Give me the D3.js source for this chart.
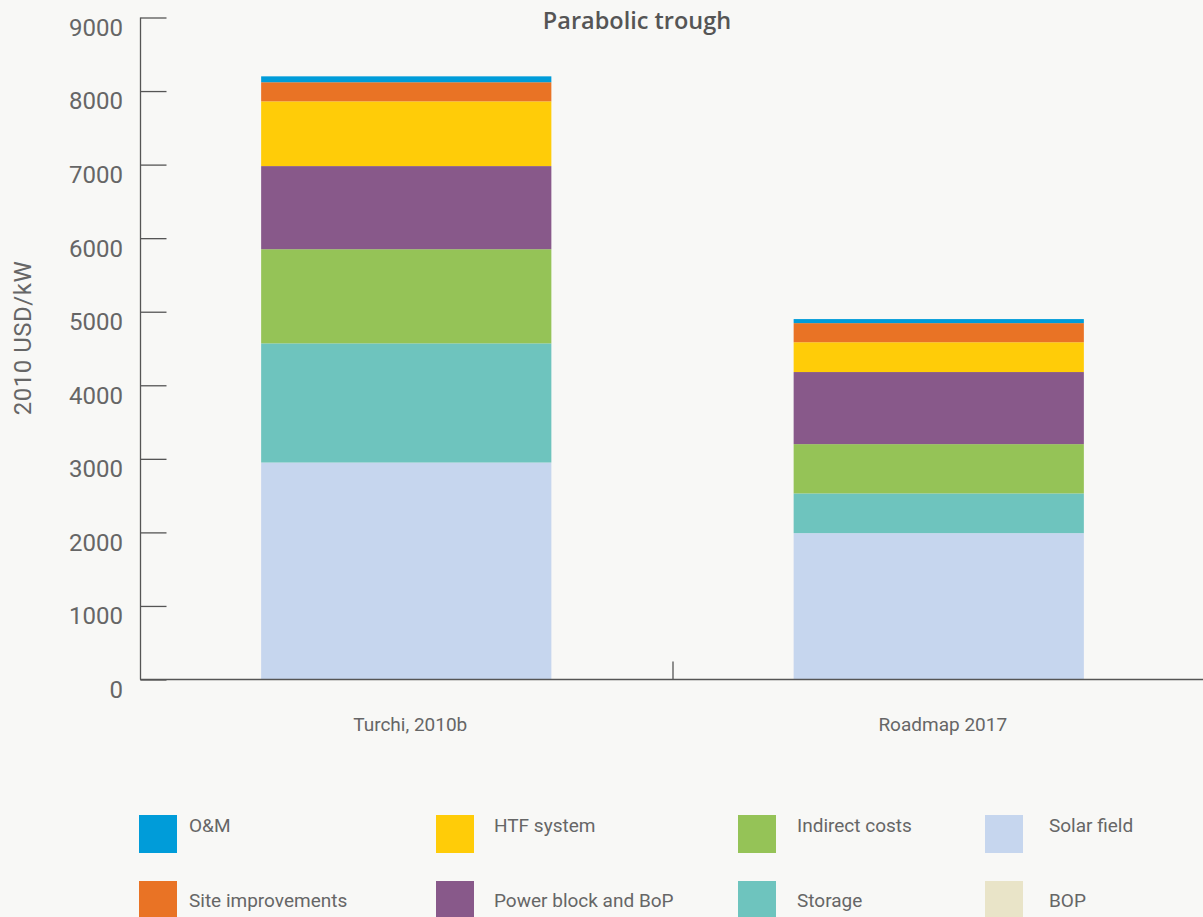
<!DOCTYPE html>
<html lang="en">
  <head>
    <meta charset="UTF-8" />
    <title>Parabolic trough</title>
    <script src="https://d3js.org/d3.v7.min.js"></script>
    <style>
      body {
        margin: 0;
        background: #f8f8f6;
      }
      svg {
        display: block;
        background: #f8f8f6;
      }
      text {
        font-family: Roboto, "Liberation Sans", sans-serif;
        fill: #666;
      }
      .title {
        font-family: "Open Sans", Roboto, sans-serif;
        font-weight: 600;
        font-size: 23.5px;
        fill: #555;
      }
    </style>
  </head>
  <body>
    <svg id="chart" width="1203" height="917"></svg>

    <script>
      // data (2010 USD/kW)
      const categories = ["Turchi, 2010b", "Roadmap 2017"];
      const seriesNames = [
        "Solar field",
        "Storage",
        "Indirect costs",
        "Power block and BoP",
        "HTF system",
        "Site improvements",
        "O&M",
        "BOP",
      ];
      const solarField = [2950, 1990];
      const storage = [1620, 540];
      const indirectCosts = [1280, 670];
      const powerBlock = [1130, 980];
      const htfSystem = [880, 405];
      const siteImprovements = [260, 260];
      const oAndM = [80, 55];
      const bop = [0, 0];
      const yTicks = [0, 1000, 2000, 3000, 4000, 5000, 6000, 7000, 8000, 9000];

      const colors = {
        "O&M": "#009cd9",
        "Site improvements": "#e97325",
        "HTF system": "#ffcc08",
        "Power block and BoP": "#88598a",
        "Indirect costs": "#95c357",
        Storage: "#6ec4be",
        "Solar field": "#c6d6ee",
        BOP: "#e9e4c8",
      };

      // legend order, column by column
      const legendOrder = [
        "O&M",
        "Site improvements",
        "HTF system",
        "Power block and BoP",
        "Indirect costs",
        "Storage",
        "Solar field",
        "BOP",
      ];

      const values = [solarField, storage, indirectCosts, powerBlock, htfSystem, siteImprovements, oAndM, bop];
      const table = categories.map((c, i) => {
        const row = { category: c };
        seriesNames.forEach((s, j) => (row[s] = values[j][i]));
        return row;
      });

      const svg = d3.select("#chart");

      const y = d3.scaleLinear().domain([0, 9000]).range([679.5, 17.5]);
      const x = d3.scaleBand().domain(categories).range([140, 1205]).padding(0);
      const barW = x.bandwidth() * 0.545;

      const stacked = d3.stack().keys(seriesNames)(table);

      // bars
      svg
        .append("g")
        .selectAll("g")
        .data(stacked)
        .join("g")
        .attr("fill", (d) => colors[d.key])
        .selectAll("rect")
        .data((d) => d)
        .join("rect")
        .attr("x", (d) => x(d.data.category) + (x.bandwidth() - barW) / 2)
        .attr("width", barW)
        .attr("y", (d) => y(d[1]))
        .attr("height", (d) => y(d[0]) - y(d[1]));

      // y axis
      const yAxis = svg
        .append("g")
        .attr("transform", "translate(140.5,0)")
        .call(d3.axisRight(y).tickValues(yTicks).tickSize(26).tickFormat(""));
      yAxis.selectAll("line, path").attr("stroke", "#555").attr("stroke-width", 1.3);
      yAxis.select(".domain").attr("d", `M0,${y(9000)}V${y(0)}`);

      svg
        .append("g")
        .selectAll("text")
        .data(yTicks)
        .join("text")
        .attr("x", 123)
        .attr("y", (d) => y(d) + 10)
        .attr("dy", "0.35em")
        .attr("text-anchor", "end")
        .style("font-size", "24px")
        .text((d) => d);

      // x axis baseline and separator
      svg
        .append("line")
        .attr("x1", 140)
        .attr("x2", 1203)
        .attr("y1", y(0))
        .attr("y2", y(0))
        .attr("stroke", "#555")
        .attr("stroke-width", 1.3);

      svg
        .selectAll(".sep")
        .data(categories.slice(1))
        .join("line")
        .attr("class", "sep")
        .attr("x1", (d) => x(d) + 0.5)
        .attr("x2", (d) => x(d) + 0.5)
        .attr("y1", y(0))
        .attr("y2", y(0) - 18)
        .attr("stroke", "#555")
        .attr("stroke-width", 1.3);

      svg
        .append("g")
        .selectAll("text")
        .data(categories)
        .join("text")
        .attr("x", (d) => x(d) + x.bandwidth() / 2 + 4)
        .attr("y", 731)
        .attr("text-anchor", "middle")
        .style("font-size", "19px")
        .text((d) => d);

      // titles
      svg.append("text").attr("class", "title").attr("x", 637).attr("y", 29).attr("text-anchor", "middle").text("Parabolic trough");

      svg
        .append("text")
        .attr("transform", "translate(31,338) rotate(-90)")
        .attr("text-anchor", "middle")
        .style("font-size", "24px")
        .style("letter-spacing", "0.5px")
        .text("2010 USD/kW");

      // legend: 4 columns x 2 rows
      const legendCols = [139, 436, 738, 985];
      const legendTextOff = [50, 58, 59, 64];
      const legendRows = [815, 881];
      const legendBase = [832, 907];

      const items = svg
        .append("g")
        .selectAll("g")
        .data(legendOrder)
        .join("g");

      items
        .append("rect")
        .attr("x", (d, i) => legendCols[Math.floor(i / 2)])
        .attr("y", (d, i) => legendRows[i % 2])
        .attr("width", 38)
        .attr("height", 38)
        .attr("fill", (d) => colors[d]);

      items
        .append("text")
        .attr("x", (d, i) => legendCols[Math.floor(i / 2)] + legendTextOff[Math.floor(i / 2)])
        .attr("y", (d, i) => legendBase[i % 2])
        .style("font-size", "19px")
        .text((d) => d);
    </script>
  </body>
</html>
